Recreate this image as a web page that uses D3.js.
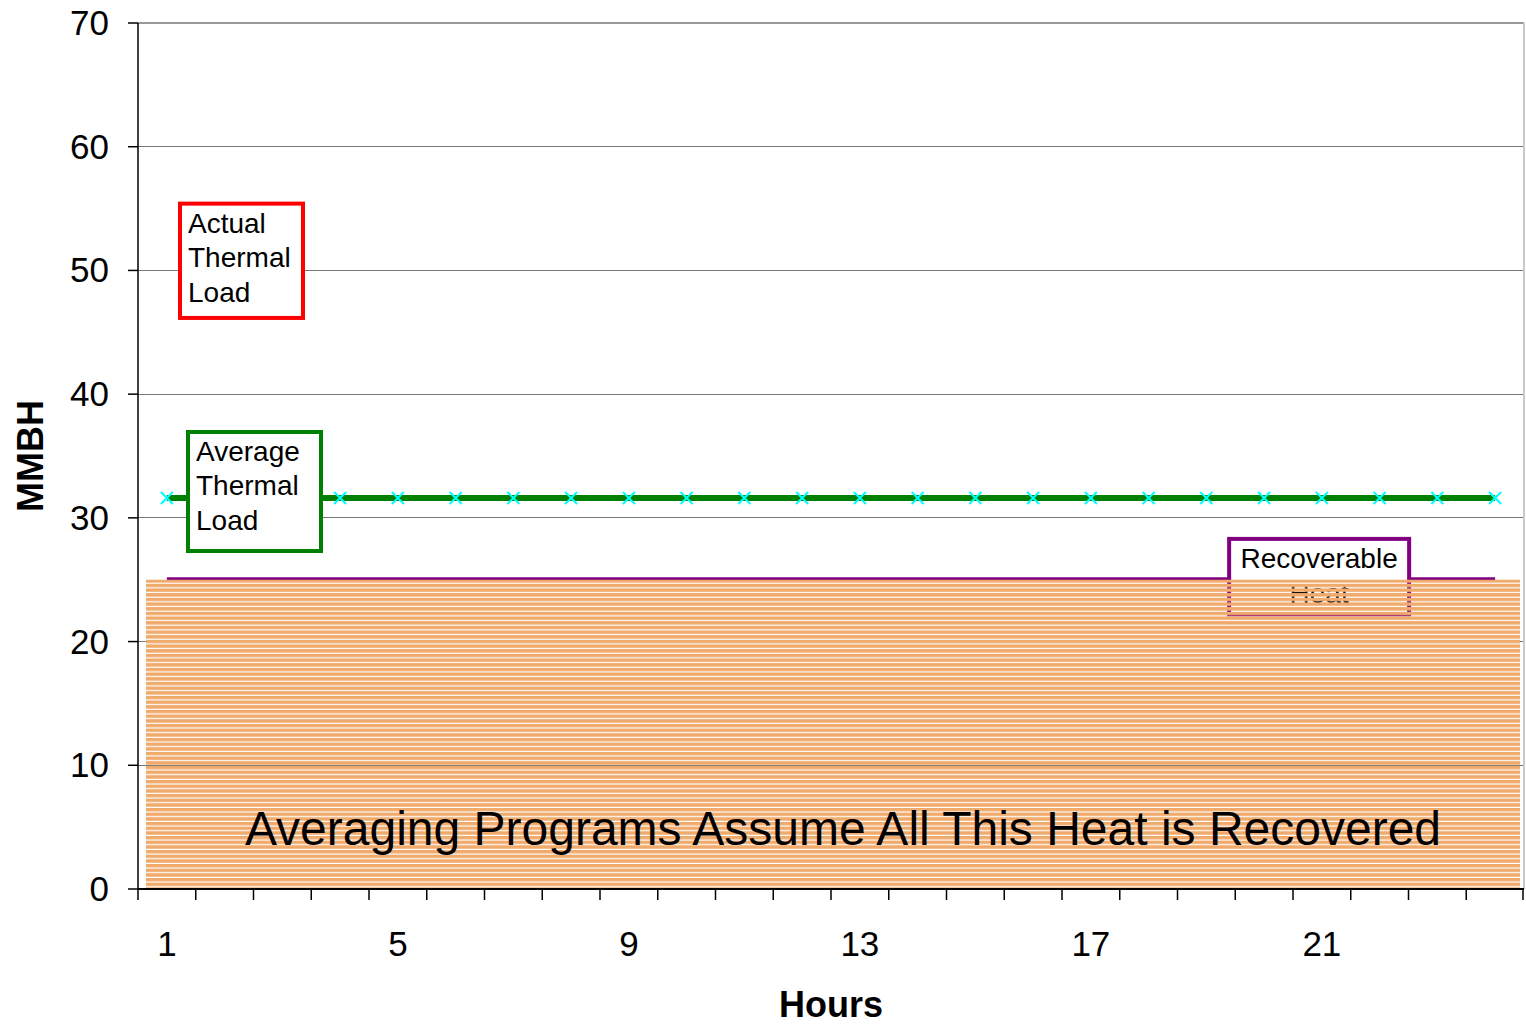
<!DOCTYPE html>
<html>
<head>
  <meta charset="utf-8">
  <script src="https://d3js.org/d3.v7.min.js"></script>
  <style>
    body { margin: 0; background: #ffffff; }
    text { font-family: "Liberation Sans", Arial, sans-serif; fill: #000000; }
    text.tick { font-size: 35px; }
    text.axisTitle { font-size: 36px; font-weight: 700; }
    text.boxText { font-size: 28px; }
    text.bigNote { font-size: 48px; }
  </style>
</head>
<body>
<script>

  // data
  var hours = [1,2,3,4,5,6,7,8,9,10,11,12,13,14,15,16,17,18,19,20,21,22,23,24];
  var averageLoad = [31.6,31.6,31.6,31.6,31.6,31.6,31.6,31.6,31.6,31.6,31.6,31.6,
                     31.6,31.6,31.6,31.6,31.6,31.6,31.6,31.6,31.6,31.6,31.6,31.6];
  var recoverable = [25,25,25,25,25,25,25,25,25,25,25,25,
                     25,25,25,25,25,25,25,25,25,25,25,25];
  var yTicks = [0,10,20,30,40,50,60,70];
  var xLabels = [1,5,9,13,17,21];

  var width = 1526, height = 1024;
  const margin = {top: 23, right: 2, bottom: 135, left: 138};

  var svg = d3.select("body").append("svg")
    .attr("width", width)
    .attr("height", height);

  var defs = svg.append("defs");
  var pat = defs.append("pattern")
    .attr("id", "stripes")
    .attr("patternUnits", "userSpaceOnUse")
    .attr("width", 10)
    .attr("height", 4.67);
  pat.append("rect")
    .attr("x", 0).attr("y", 0)
    .attr("width", 10).attr("height", 3.5)
    .style("fill", "#F0AA6C");

  let x = d3.scaleBand()
    .domain(hours)
    .range([margin.left, width - margin.right])
    .padding(0);
  let xc = d => x(d) + x.bandwidth() / 2;

  let y = d3.scaleLinear()
    .domain([0, 70])
    .range([height - margin.bottom, margin.top]);

  // gridlines
  svg.append("g")
    .selectAll("line")
    .data(yTicks.filter(d => d > 0))
    .enter().append("line")
    .attr("x1", margin.left).attr("x2", width - margin.right)
    .attr("y1", d => y(d)).attr("y2", d => y(d))
    .style("stroke", d => d == 70 ? "#999999" : "#777777")
    .style("stroke-width", d => d == 70 ? 2 : 1)
    .style("shape-rendering", "crispEdges");

  // right border of plot area
  svg.append("line")
    .attr("x1", width - margin.right).attr("x2", width - margin.right)
    .attr("y1", y(70)).attr("y2", y(0))
    .style("stroke", "#c8c8c8").style("stroke-width", 2);

  // recoverable line
  svg.append("path")
    .datum(recoverable)
    .attr("d", d3.line().x((d, i) => xc(hours[i])).y(d => y(d) - 1))
    .style("fill", "none")
    .style("stroke", "#800080")
    .style("stroke-width", 3);

  // Recoverable Heat box (behind the striped area)
  var rb = {x: xc(20) - 35, y: y(28.3), w: 180, h: y(22.2) - y(28.3)};
  svg.append("rect")
    .attr("x", rb.x).attr("y", rb.y)
    .attr("width", rb.w).attr("height", rb.h)
    .style("fill", "#ffffff")
    .style("stroke", "#800080")
    .style("stroke-width", 4);
  svg.append("text").attr("class", "boxText")
    .attr("x", rb.x + rb.w / 2).attr("y", rb.y + 29)
    .style("text-anchor", "middle")
    .text("Recoverable");
  svg.append("text").attr("class", "boxText")
    .attr("x", rb.x + rb.w / 2).attr("y", rb.y + 64)
    .style("text-anchor", "middle")
    .text("Heat");

  // striped recoverable heat area
  var area = d3.area()
    .x((d, i) => i == 0 ? x(hours[0]) + 8 : (i == hours.length - 1 ? x(hours[i]) + x.bandwidth() - 4 : xc(hours[i])))
    .y0(y(0))
    .y1(d => y(d));
  svg.append("path")
    .datum(recoverable)
    .attr("d", area)
    .style("fill", "url(#stripes)");

  // average thermal load line
  svg.append("path")
    .datum(averageLoad)
    .attr("d", d3.line().x((d, i) => xc(hours[i])).y(d => y(d)))
    .style("fill", "none")
    .style("stroke", "#008000")
    .style("stroke-width", 6);

  var s = 6;
  var markers = svg.append("g").selectAll("g")
    .data(averageLoad)
    .enter().append("g")
    .attr("transform", (d, i) => `translate(${xc(hours[i])},${y(d)})`);
  markers.append("path")
    .attr("d", `M${-s},${-s}L${s},${s}M${-s},${s}L${s},${-s}`)
    .style("stroke", "#00FFFF")
    .style("stroke-width", 2);

  // text boxes
  function textBox(x0, y0, w, h, colour, lines) {
    svg.append("rect")
      .attr("x", x0).attr("y", y0)
      .attr("width", w).attr("height", h)
      .style("fill", "#ffffff")
      .style("stroke", colour)
      .style("stroke-width", 4);
    lines.forEach((t, i) => {
      svg.append("text").attr("class", "boxText")
        .attr("x", x0 + 8).attr("y", y0 + 29 + i * 34.5)
        .text(t);
    });
  }
  textBox(180, y(55.4), 123, y(46.16) - y(55.4), "#FF0000", ["Actual", "Thermal", "Load"]);
  textBox(188, y(36.94), 133, y(27.32) - y(36.94), "#008000", ["Average", "Thermal", "Load"]);

  // y axis
  svg.append("line")
    .attr("x1", margin.left).attr("x2", margin.left)
    .attr("y1", y(70)).attr("y2", y(0))
    .style("stroke", "#000000").style("stroke-width", 1.5);
  svg.append("g").selectAll("line")
    .data(yTicks).enter().append("line")
    .attr("x1", margin.left - 10).attr("x2", margin.left)
    .attr("y1", d => y(d)).attr("y2", d => y(d))
    .style("stroke", "#000000").style("stroke-width", 1.5);
  svg.append("g").selectAll("text")
    .data(yTicks).enter().append("text")
    .attr("class", "tick")
    .attr("x", margin.left - 29)
    .attr("y", d => y(d) + 12)
    .style("text-anchor", "end")
    .text(d => d);

  // x axis
  svg.append("line")
    .attr("x1", margin.left).attr("x2", width - margin.right)
    .attr("y1", y(0)).attr("y2", y(0))
    .style("stroke", "#000000").style("stroke-width", 2);
  svg.append("g").selectAll("line")
    .data(hours.concat(["end"])).enter().append("line")
    .attr("x1", d => d == "end" ? width - margin.right - 1 : x(d))
    .attr("x2", d => d == "end" ? width - margin.right - 1 : x(d))
    .attr("y1", y(0)).attr("y2", y(0) + 11)
    .style("stroke", "#000000").style("stroke-width", 1.5);
  svg.append("g").selectAll("text")
    .data(xLabels).enter().append("text")
    .attr("class", "tick")
    .attr("x", d => xc(d))
    .attr("y", y(0) + 67)
    .style("text-anchor", "middle")
    .text(d => d);

  // titles
  svg.append("text").attr("class", "axisTitle")
    .attr("x", xc(12) + x.bandwidth() / 2)
    .attr("y", 1017)
    .style("text-anchor", "middle")
    .text("Hours");
  svg.append("text").attr("class", "axisTitle")
    .attr("transform", `translate(43, ${y(35)}) rotate(-90)`)
    .style("text-anchor", "middle")
    .text("MMBH");

  svg.append("text").attr("class", "bigNote")
    .attr("x", 843).attr("y", 845)
    .style("text-anchor", "middle")
    .text("Averaging Programs Assume All This Heat is Recovered");

</script>
</body>
</html>
